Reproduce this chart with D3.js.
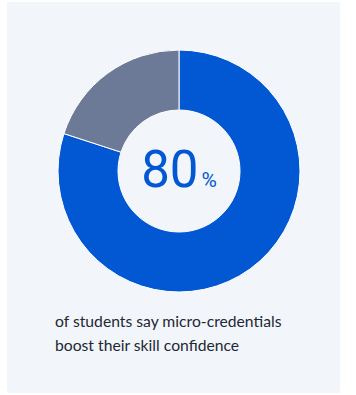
<!DOCTYPE html>
<html><head><meta charset="utf-8">
<script src="https://cdn.jsdelivr.net/npm/d3@7"></script>
<style>html,body{margin:0;padding:0;background:#fff;}</style>
</head><body>
<svg id="c" width="356" height="395"></svg>
<script>
const categories = ["Boost confidence", "Other"];
const values = [80, 20];
const headline = "80";
const unit = "%";
const captionLines = ["of students say micro-credentials", "boost their skill confidence"];
const colors = ["#0257d3", "#6c7a97"];

const svg = d3.select("#c");
svg.append("rect").attr("x",7).attr("y",2).attr("width",333).attr("height",391).attr("fill","#f2f6fa");

const cx = 179, cy = 171;
const pie = d3.pie().sort(null).value(d=>d)(values);
const arc = d3.arc().innerRadius(61).outerRadius(121);
const g = svg.append("g").attr("transform",`translate(${cx},${cy})`);
g.selectAll("path").data(pie).join("path")
  .attr("d",arc).attr("fill",(d,i)=>colors[i])
  .attr("stroke","#ffffff").attr("stroke-width",1);

const t = svg.append("text").attr("x",cx).attr("y",187).attr("text-anchor","middle")
  .attr("fill","#0257d3").attr("font-family","Roboto, sans-serif");
t.append("tspan").attr("font-size",51).attr("font-weight",400).text(headline);
t.append("tspan").attr("font-size",21).attr("font-weight",400).attr("dx",3).text(unit);

const cap = svg.append("g");
captionLines.forEach((s,i)=>{
  cap.append("text").attr("x",55).attr("y",327+i*24)
    .attr("fill","#1e2735").attr("font-family","Lato, sans-serif").attr("font-size",15.7)
    .text(s);
});
</script>
</body></html>
